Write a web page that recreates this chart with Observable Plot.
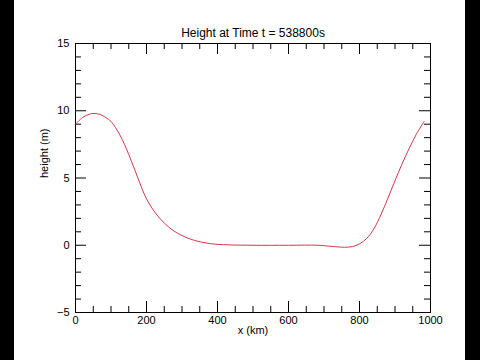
<!DOCTYPE html>
<html>
<head>
<meta charset="utf-8">
<script src="https://cdn.jsdelivr.net/npm/d3@7"></script>
<script src="https://cdn.jsdelivr.net/npm/@observablehq/plot@0.6"></script>
<style>
  html, body { margin: 0; padding: 0; background: #fff; }
  #wrap { position: relative; width: 480px; height: 360px; overflow: hidden; background: #fff; }
  #wrap svg { position: absolute; left: 0; top: 0; }
  .bar { position: absolute; top: 0; height: 360px; background: #000; z-index: 2; }
</style>
</head>
<body>
<div id="wrap">
  <div class="bar" style="left:0;width:14px"></div>
  <div class="bar" style="left:465px;width:15px"></div>
</div>
<script>
const titleText = "Height at Time t = 538800s";
const xLabel = "x (km)";
const yLabel = "height (m)";
const xKm = [0, 20, 40, 52, 70, 85, 100, 125, 150, 175, 200, 225, 250, 275, 300, 335, 380, 430, 500, 600, 683, 720, 758, 780, 800, 820, 840, 860, 880, 900, 920, 940, 960, 982];
const hM  = [9.0, 9.5, 9.75, 9.8, 9.72, 9.5, 9.2, 8.2, 6.75, 5.05, 3.45, 2.4, 1.65, 1.1, 0.72, 0.36, 0.12, 0.03, 0.0, 0.0, 0.0, -0.08, -0.15, -0.1, 0.1, 0.5, 1.2, 2.25, 3.5, 4.8, 6.05, 7.2, 8.25, 9.2];
const xMajor = [0, 200, 400, 600, 800, 1000];
const xMinor = d3.range(0, 1001, 50).filter(v => v % 200 !== 0);
const yMajor = [-5, 0, 5, 10, 15];
const yMinor = d3.range(-5, 16, 1).filter(v => v % 5 !== 0);

const data = xKm.map((x, i) => ({x, h: hM[i]}));

const W = 480, H = 360;
const mL = 75, mR = 50, mT = 43, mB = 48;
const pw = W - mL - mR, ph = H - mT - mB;
const maj = 11, mnr = 6;
const font = "Liberation Sans, Arial, Helvetica, sans-serif";

const chart = Plot.plot({
  width: W, height: H,
  marginLeft: mL, marginRight: mR, marginTop: mT, marginBottom: mB,
  style: {background: "#fff", fontFamily: font, fontSize: "11px", color: "#000"},
  x: {domain: [0, 1000]},
  y: {domain: [-5, 15]},
  marks: [
    Plot.frame({stroke: "#000", strokeWidth: 1}),
    Plot.tickX(xMajor, {x: d => d, insetTop: ph - maj, stroke: "#000"}),
    Plot.tickX(xMajor, {x: d => d, insetBottom: ph - maj, stroke: "#000"}),
    Plot.tickX(xMinor, {x: d => d, insetTop: ph - mnr, stroke: "#000"}),
    Plot.tickX(xMinor, {x: d => d, insetBottom: ph - mnr, stroke: "#000"}),
    Plot.tickY(yMajor, {y: d => d, insetRight: pw - maj, stroke: "#000"}),
    Plot.tickY(yMajor, {y: d => d, insetLeft: pw - maj, stroke: "#000"}),
    Plot.tickY(yMinor, {y: d => d, insetRight: pw - mnr, stroke: "#000"}),
    Plot.tickY(yMinor, {y: d => d, insetLeft: pw - mnr, stroke: "#000"}),
    Plot.axisX(xMajor, {anchor: "bottom", tickSize: 0, tickPadding: 4, label: null, fontSize: 11, tickFormat: d3.format("d")}),
    Plot.axisY(yMajor, {anchor: "left", tickSize: 0, tickPadding: 6, label: null, fontSize: 11, tickFormat: d3.format("d")}),
    Plot.line(data, {x: "x", y: "h", stroke: "#d03a48", strokeWidth: 1, curve: "catmull-rom"}),
    Plot.text([titleText], {text: d => d, frameAnchor: "top", dy: -15, fontSize: 12, fill: "#000"}),
    Plot.text([xLabel], {text: d => d, frameAnchor: "bottom", dy: 21, fontSize: 11, fill: "#000"}),
    Plot.text([yLabel], {text: d => d, frameAnchor: "left", dx: -31, rotate: -90, fontSize: 11, fill: "#000"})
  ]
});
document.getElementById("wrap").appendChild(chart);
</script>
</body>
</html>
